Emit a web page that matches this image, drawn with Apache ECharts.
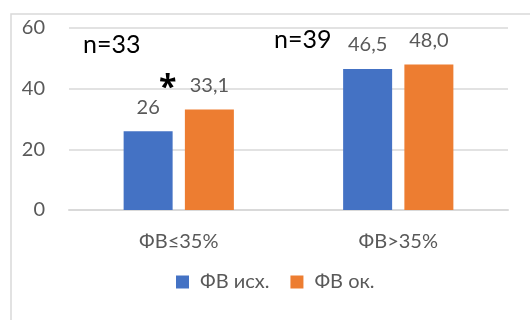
<!DOCTYPE html>
<html>
<head>
<meta charset="utf-8">
<script src="https://cdn.jsdelivr.net/npm/echarts@6/dist/echarts.min.js"></script>
<style>
  html, body { margin: 0; padding: 0; background: #fff; }
  #chart { width: 530px; height: 320px; }
</style>
</head>
<body>
<div id="chart"></div>
<script>
  // категории и значения
  const categories = ['ФВ≤35%', 'ФВ>35%']
  const seriesNames = ['ФВ исх.', 'ФВ ок.']
  const fvStart = [26, 46.5]
  const fvEnd = [33.1, 48.0]
  const fvStartLabels = ['26', '46,5']
  const fvEndLabels = ['33,1', '48,0']
  const groupNotes = ['n=33', 'n=39']
  const yTicks = [0, 20, 40, 60]

  const font = 'Lato, "Open Sans", sans-serif'
  const grey = '#595959'

  const chart = echarts.init(document.getElementById('chart'))

  chart.setOption({
    animation: false,
    textStyle: { fontFamily: font },
    grid: { left: 69, right: 22, top: 28, bottom: 110 },
    graphic: [
      {
        type: 'rect',
        shape: { x: 11, y: 14, width: 600, height: 400 },
        style: { fill: 'none', stroke: '#d9d9d9', lineWidth: 1.5 },
        silent: true
      },
      {
        type: 'text', left: 83, top: 32,
        style: { text: groupNotes[0], fill: '#000', font: '25px ' + font }
      },
      {
        type: 'text', left: 274, top: 27,
        style: { text: groupNotes[1], fill: '#000', font: '25px ' + font }
      },
      {
        type: 'text', left: 159, top: 73,
        style: { text: '*', fill: '#000', font: 'bold 32px "Open Sans", sans-serif' }
      }
    ],
    legend: {
      data: seriesNames,
      bottom: 23,
      left: 171,
      icon: 'rect',
      itemWidth: 13,
      itemHeight: 13,
      itemGap: 21,
      textStyle: { color: grey, fontSize: 20, fontFamily: font, padding: [0, 0, 0, 6] }
    },
    xAxis: {
      type: 'category',
      data: categories,
      axisTick: { show: false },
      axisLine: { lineStyle: { color: '#d9d9d9', width: 2 } },
      axisLabel: { color: grey, fontSize: 20, margin: 22 }
    },
    yAxis: {
      type: 'value',
      min: yTicks[0],
      max: yTicks[yTicks.length - 1],
      interval: 20,
      axisLine: { show: false },
      axisTick: { show: false },
      splitLine: { lineStyle: { color: '#d9d9d9', width: 1.5 } },
      axisLabel: { color: grey, fontSize: 20, margin: 24 }
    },
    series: [
      {
        name: seriesNames[0],
        type: 'bar',
        data: fvStart,
        barWidth: 49,
        barGap: '25%',
        itemStyle: { color: '#4472C4' },
        label: {
          show: true, position: 'top', distance: 14,
          color: grey, fontSize: 20,
          formatter: p => fvStartLabels[p.dataIndex]
        }
      },
      {
        name: seriesNames[1],
        type: 'bar',
        data: fvEnd,
        barWidth: 49,
        itemStyle: { color: '#ED7D31' },
        label: {
          show: true, position: 'top', distance: 14,
          color: grey, fontSize: 20,
          formatter: p => fvEndLabels[p.dataIndex]
        }
      }
    ]
  })
</script>
</body>
</html>
